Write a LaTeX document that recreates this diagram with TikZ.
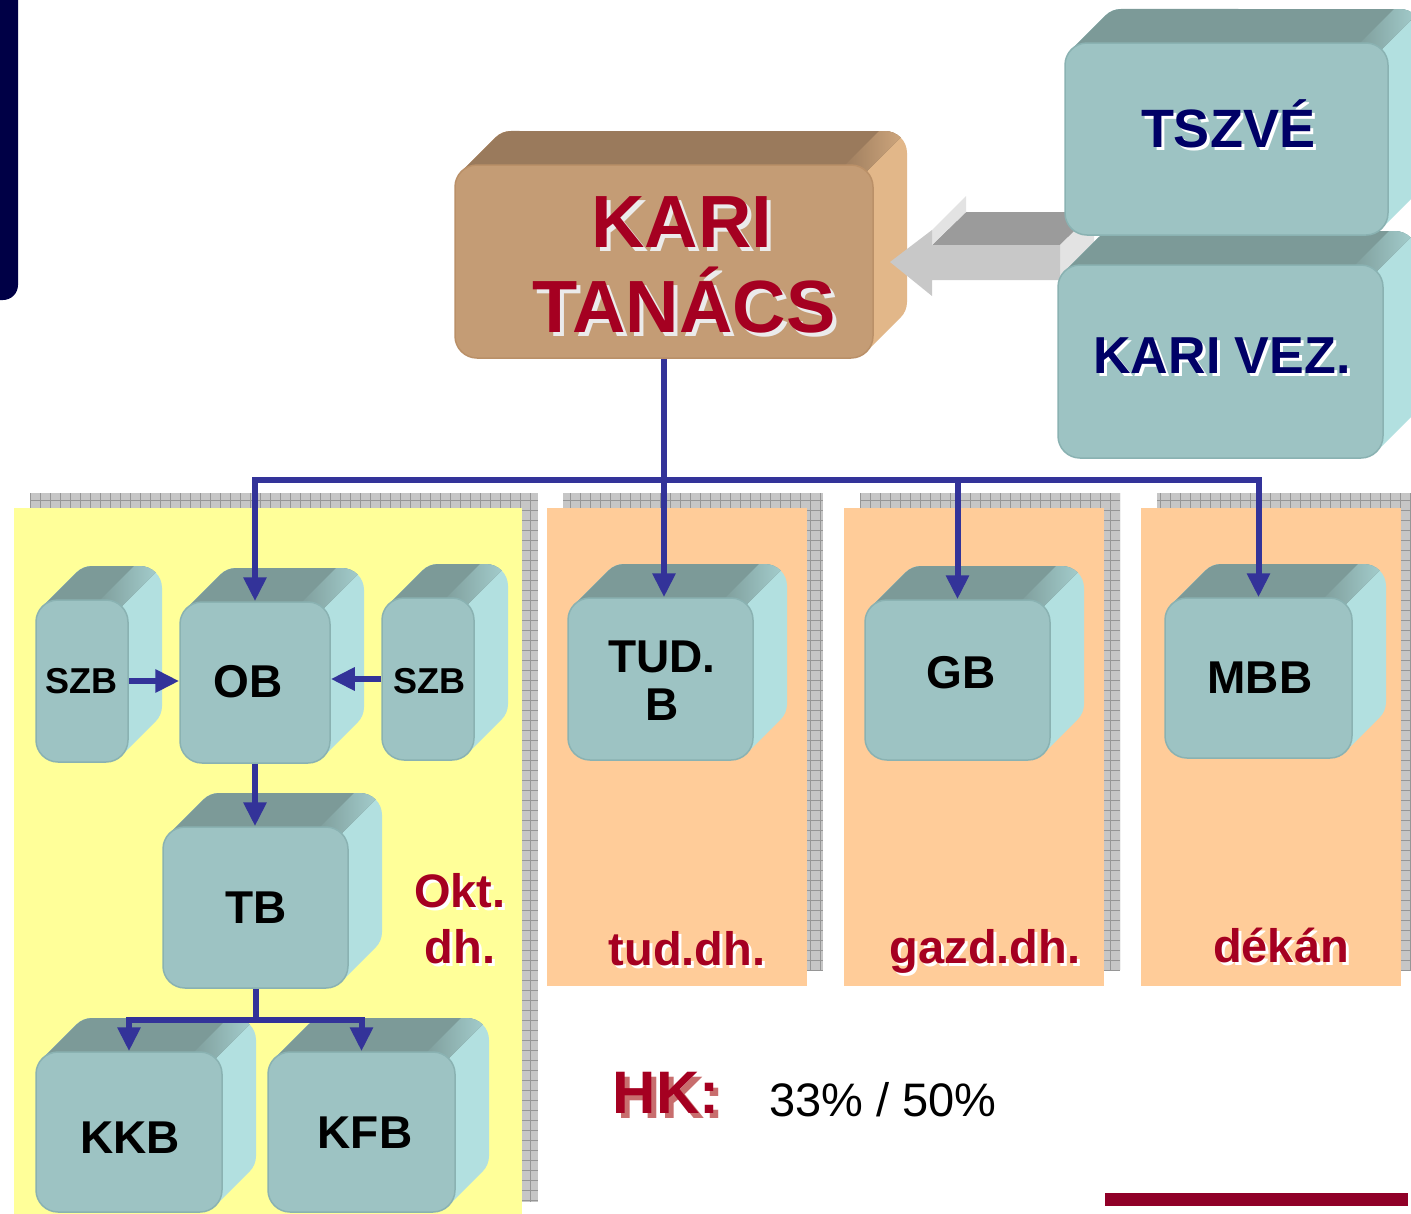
\documentclass[tikz,border=0pt]{standalone}
\usepackage{fontspec}
\setmainfont{Liberation Sans}
\usetikzlibrary{arrows.meta}
\definecolor{navybar}{RGB}{0,0,70}
\definecolor{tanfront}{RGB}{196,156,117}
\definecolor{tantop}{RGB}{154,122,92}
\definecolor{tanside}{RGB}{226,183,137}
\definecolor{tanedge}{RGB}{186,144,104}
\definecolor{tealfront}{RGB}{157,195,195}
\definecolor{tealtop}{RGB}{124,154,152}
\definecolor{tealside}{RGB}{178,224,224}
\definecolor{tealedge}{RGB}{138,178,178}
\definecolor{conblue}{RGB}{51,51,153}
\definecolor{dred}{RGB}{165,0,33}
\definecolor{hkshadow}{RGB}{200,110,110}
\definecolor{dnavy}{RGB}{0,0,102}
\definecolor{yellowp}{RGB}{255,255,153}
\definecolor{peach}{RGB}{255,204,153}
\definecolor{shgray}{RGB}{198,198,198}
\definecolor{shline}{RGB}{150,150,150}
\definecolor{barred}{RGB}{144,0,40}
\definecolor{arrfront}{RGB}{200,200,200}
\definecolor{arrtop}{RGB}{155,155,155}
\definecolor{arrlight}{RGB}{227,227,227}

% text with a drop shadow: #1 shadow colour, #2 text colour, #3 offset, #4 text
\newcommand\shd[4]{\leavevmode\rlap{\kern#3\raisebox{-#3}{\color{#1}#4}}{\color{#2}#4}}

% 3D box: #1 name, #2 x1, #3 y1, #4 x2, #5 y2 (front face), #6 colour prefix
\newcommand\tcube[6]{%
  \fill[#6side] (#2,#3+22) arc[start angle=180,end angle=135,radius=22pt] -- ++(34,-34)
     arc[start angle=135,end angle=90,radius=22pt] -- (#4+12,#3-34)
     arc[start angle=90,end angle=0,radius=22pt] -- (#4+34,#5-56)
     arc[start angle=0,end angle=-45,radius=22pt] -- ++(-34,34) -- cycle;
  \fill[#6top] (#2+6.44,#3+6.44) -- ++(34,-34)
     arc[start angle=135,end angle=90,radius=22pt] -- (#4+12,#3-34)
     arc[start angle=90,end angle=45,radius=22pt] -- ++(-34,34) -- cycle;
  \shade[left color=#6top, right color=#6top!30!#6side] (#4-34.44,#3+6.44) -- (#4+6,#3-34) -- (#4+12,#3-34)
     arc[start angle=90,end angle=45,radius=22pt] -- ++(-34,34) -- cycle;
  \node[draw=#6edge, fill=#6front, line width=1.5pt, rounded corners=22pt, inner sep=0pt,
        minimum width={#4pt-#2pt}, minimum height={#5pt-#3pt}] (#1) at ({(#2+#4)/2},{(#3+#5)/2}) {};
}

% panel with a gridded shadow: #1 x1, #2 y1, #3 x2, #4 y2, #5 colour
\newcommand\shpanel[5]{%
  \begin{scope}
    \clip (#1+16,#2-15) rectangle (#3+16,#4-16);
    \fill[shgray] (#1+16,#2-15) rectangle (#3+16,#4-16);
    \draw[shline, line width=0.8pt, step=10pt] (#1+16,#2-15) grid (#3+16,#4-16);
  \end{scope}
  \fill[#5] (#1,#2) rectangle (#3,#4);
}

\begin{document}
\begin{tikzpicture}[x=1pt,y=-1pt,
  arr/.style={draw=conblue, line width=6pt, -{Triangle[width=22pt,length=24pt]}},
  bline/.style={draw=conblue, line width=6pt},
  boxlbl/.style={anchor=base, inner sep=0pt, font=\fontsize{46}{50}\selectfont\bfseries},
  smalllbl/.style={anchor=base, inner sep=0pt, font=\fontsize{36}{40}\selectfont\bfseries},
  redlbl/.style={anchor=base, inner sep=0pt, font=\fontsize{47}{50}\selectfont\bfseries},
  biglbl/.style={anchor=base, inner sep=0pt, font=\fontsize{74}{80}\selectfont\bfseries},
  navylbl/.style={anchor=base, inner sep=0pt, font=\fontsize{53}{60}\selectfont\bfseries},
]
\useasboundingbox (0,0) rectangle (1411,1213);
\clip (0,0) rectangle (1411,1213);
\fill[white] (0,0) rectangle (1411,1213);

% left navy bar
\fill[navybar, rounded corners=15pt] (-30,-30) rectangle (18,300);

% panels
\shpanel{14}{508}{522}{1218}{yellowp}
\shpanel{547}{508}{807}{986}{peach}
\shpanel{844}{508}{1104}{986}{peach}
\shpanel{1141}{508}{1401}{986}{peach}

% top boxes
\tcube{kt}{455}{165}{873}{358}{tan}

% grey 3D arrow
\fill[arrtop] (932,245) -- (966,212) -- (1094,212) -- (1060,245) -- cycle;
\fill[arrlight] (932,230) -- (966,196) -- (966,212) -- (932,245) -- cycle;
\fill[arrlight] (1060,245) -- (1094,212) -- (1094,247) -- (1060,280) -- cycle;
\fill[arrfront] (890,262) -- (932,230) -- (932,245) -- (1060,245) -- (1060,280) -- (932,280) -- (932,296) -- cycle;

\tcube{kv}{1058}{265}{1383}{458}{teal}
\tcube{tsz}{1065}{43}{1388}{235}{teal}

% lower boxes
\tcube{szbl}{36}{600}{128}{762}{teal}
\tcube{ob}{180}{602}{330}{763}{teal}
\tcube{szbr}{382}{598}{474}{760}{teal}
\tcube{tb}{163}{827}{348}{988}{teal}
\tcube{kkb}{36}{1052}{222}{1212}{teal}
\tcube{kfb}{268}{1052}{455}{1212}{teal}
\tcube{tud}{568}{598}{753}{760}{teal}
\tcube{gb}{865}{600}{1050}{760}{teal}
\tcube{mbb}{1165}{598}{1352}{758}{teal}

% connectors
\coordinate (bus) at (664,480);
\coordinate (tbus) at (257,1020);
\draw[arr] (kt.south) -- (kt.south |- tud.north);
\draw[arr] (kt.south |- bus) -| (ob.north);
\draw[arr] (kt.south |- bus) -| (mbb.north);
\draw[arr] (gb.north |- bus) -- (gb.north);
\draw[arr] (szbl.east) -- (szbl.east -| ob.west);
\draw[arr] (szbr.west) -- (szbr.west -| ob.east);
\draw[arr] (ob.south) -- (ob.south |- tb.north);
\draw[bline] (tb.south) -- (tb.south |- tbus);
\draw[arr] (tb.south |- tbus) -| (kkb.north);
\draw[arr] (tb.south |- tbus) -| (kfb.north);

% box labels
\node[biglbl] (t-kari) at (682,247) {\shd{white!92!black}{dred}{4pt}{KARI}};
\node[biglbl] (t-tanacs) at (684,332) {\shd{white!92!black}{dred}{4pt}{TANÁCS}};
\node[navylbl, font=\fontsize{54}{60}\selectfont\bfseries] (t-tsz) at (1228,147) {\shd{white}{dnavy}{3pt}{TSZVÉ}};
\node[navylbl, font=\fontsize{52}{60}\selectfont\bfseries] (t-kv) at (1222,373) {\shd{white}{dnavy}{3pt}{KARI VEZ.}};
\node[smalllbl] (t-szbl) at (81,693) {SZB};
\node[boxlbl] (t-ob) at (248,697) {OB};
\node[smalllbl] (t-szbr) at (429,693) {SZB};
\node[boxlbl] (t-tb) at (256,923) {TB};
\node[boxlbl] (t-kkb) at (130,1153) {KKB};
\node[boxlbl] (t-kfb) at (365,1148) {KFB};
\node[boxlbl] (t-tud1) at (662,672) {TUD.};
\node[boxlbl] (t-tud2) at (662,720) {B};
\node[boxlbl] (t-gb) at (961,688) {GB};
\node[boxlbl] (t-mbb) at (1260,693) {MBB};

% panel labels
\node[redlbl] (l-okt) at (460,907) {\shd{white}{dred}{3pt}{Okt.}};
\node[redlbl] (l-dh) at (460,963) {\shd{white}{dred}{3pt}{dh.}};
\node[redlbl] (l-tud) at (687,965) {\shd{white}{dred}{3pt}{tud.dh.}};
\node[redlbl] (l-gazd) at (985,963) {\shd{white}{dred}{3pt}{gazd.dh.}};
\node[redlbl] (l-dekan) at (1281,962) {\shd{white}{dred}{3pt}{dékán}};

% HK
\node[anchor=base, inner sep=0pt, font=\fontsize{60}{64}\selectfont\bfseries] (hk) at (666,1113) {\shd{hkshadow}{dred}{5pt}{HK:}};
\node[anchor=base, inner sep=0pt, font=\fontsize{47}{50}\selectfont] (pct) at (883,1116) {33\% / 50\%};

% bottom bar
\fill[barred] (1105,1193) rectangle (1408,1206);
\end{tikzpicture}
\end{document}
